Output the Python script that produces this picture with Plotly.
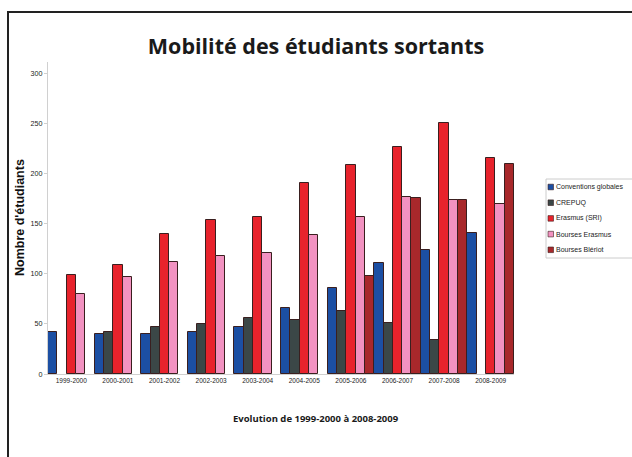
import plotly.graph_objects as go

years = ["1999-2000", "2000-2001", "2001-2002", "2002-2003", "2003-2004",
         "2004-2005", "2005-2006", "2006-2007", "2007-2008", "2008-2009"]
conventions = [42, 40, 40, 42, 47, 66, 86, 111, 124, 141]
crepuq = [None, 42, 47, 50, 56, 54, 63, 51, 34, None]
erasmus_sri = [99, 109, 140, 154, 157, 190, 208, 226, 250, 215]
bourses_erasmus = [80, 97, 112, 118, 121, 139, 157, 176, 173, 169]
bourses_bleriot = [None, None, None, None, None, None, 98, 175, 173, 209]

series = [
    ("Conventions globales", conventions, "#1c4fa3"),
    ("CREPUQ", crepuq, "#3b4747"),
    ("Erasmus (SRI)", erasmus_sri, "#e8232c"),
    ("Bourses Erasmus", bourses_erasmus, "#f292c1"),
    ("Bourses Blériot", bourses_bleriot, "#a8282b"),
]

W, H = 632, 457
L, R, T, B = 48, 118, 62, 83
pw, ph = W - L - R, H - T - B

def px(x):
    return (x - L) / pw

def py(y):
    return (H - B - y) / ph

fig = go.Figure()
for name, vals, col in series:
    fig.add_trace(go.Bar(
        x=years, y=vals, name=name,
        marker=dict(color=col, line=dict(color="#3a1f1f", width=1)),
    ))

annotations = [
    dict(text="<b>Nombre d'étudiants</b>", x=px(20), y=py(218),
         xref="paper", yref="paper", textangle=-90, showarrow=False,
         xanchor="center", yanchor="middle",
         font=dict(family="Liberation Sans, Arial", size=12.5, color="#111")),
    dict(text="<b>Evolution de 1999-2000 à 2008-2009</b>", x=px(316), y=py(418),
         xref="paper", yref="paper", showarrow=False,
         xanchor="center", yanchor="middle",
         font=dict(family="Open Sans", size=9.5, color="#1a1a1a")),
]
shapes = [
    dict(type="rect", xref="paper", yref="paper",
         x0=px(8), y0=py(470), x1=px(660), y1=py(12),
         line=dict(color="#222222", width=2), fillcolor="rgba(0,0,0,0)", layer="above"),
    # legend box
    dict(type="rect", xref="paper", yref="paper",
         x0=px(546), y0=py(258), x1=px(660), y1=py(179),
         line=dict(color="#cccccc", width=1), fillcolor="white", layer="above"),
]

# legend entries (swatch + label), built from the series list
for i, (name, vals, col) in enumerate(series):
    yc = 187 + i * 15.7
    shapes.append(dict(type="rect", xref="paper", yref="paper",
                       x0=px(548), x1=px(553.5), y0=py(yc + 2.8), y1=py(yc - 2.8),
                       line=dict(color="#3a1f1f", width=0.6), fillcolor=col, layer="above"))
    annotations.append(dict(text=name, x=px(554), y=py(yc), xref="paper", yref="paper",
                            showarrow=False, xanchor="left", yanchor="middle",
                            font=dict(family="Liberation Sans, Arial",
                                      size=7, color="#222")))

fig.update_layout(
    width=W, height=H,
    margin=dict(l=L, r=R, t=T, b=B, autoexpand=False),
    paper_bgcolor="white", plot_bgcolor="white",
    barmode="group", bargap=0, bargroupgap=0,
    showlegend=False,
    title=dict(
        text="Mobilité des étudiants sortants",
        x=0.5, xref="container", xanchor="center",
        y=1 - 46 / H, yref="container", yanchor="middle",
        font=dict(family="Open Sans", size=21.5, color="#1a1a1a", weight="bold"),
    ),
    xaxis=dict(
        showline=True, linecolor="#d0d0d0", linewidth=1,
        ticks="", showgrid=False,
        tickfont=dict(family="Liberation Sans, Arial", size=6.5, color="#222"),
    ),
    yaxis=dict(
        range=[0, 311], tickvals=[0, 50, 100, 150, 200, 250, 300],
        showline=True, linecolor="#d0d0d0", linewidth=1,
        ticks="outside", ticklen=3, tickcolor="#d0d0d0",
        showgrid=False, zeroline=False,
        tickfont=dict(family="Liberation Sans, Arial", size=7.2, color="#222"),
    ),
    annotations=annotations,
    shapes=shapes,
)

fig.write_html("out.html", config={"displayModeBar": False},
               post_script="document.body.style.margin='0';")
